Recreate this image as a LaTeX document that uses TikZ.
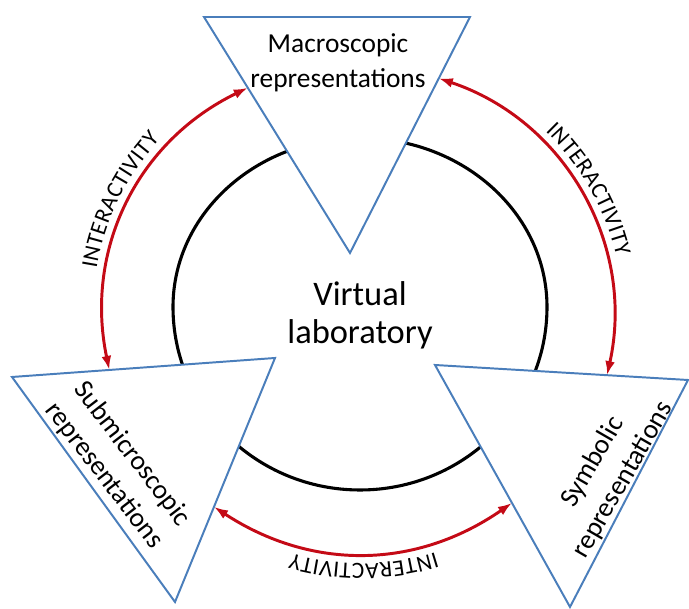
\documentclass[tikz,border=0pt]{standalone}
\usepackage{fontspec}
\setmainfont{Carlito}
\usetikzlibrary{arrows.meta,calc,decorations.text}
\definecolor{edgeblue}{RGB}{74,126,187}
\definecolor{linkred}{RGB}{196,10,22}

\begin{document}
\begin{tikzpicture}[
        repr/.style={draw=edgeblue, line width=1.4pt, fill=white},
        reprtext/.style={align=center, font=\fontsize{19.5}{25}\selectfont},
        link/.style={draw=linkred, line width=2.1pt, >={Latex[length=10pt,width=7pt]}, <->,
            postaction={decorate, decoration={text along path, text align=center, raise=0.25cm,
                text={|\fontsize{16.5}{18}\selectfont|INTERACTIVITY}}}}
    ]
        \useasboundingbox (0,0) rectangle (17.225,15.225);

        % Ring round the lab
        \draw[line width=2.2pt] (4.325,7.55)
            arc[start angle=180, end angle=0, x radius=4.675, y radius=4.225]
            arc[start angle=0, end angle=-180, x radius=4.675, y radius=4.575];
        \node[align=center, font=\fontsize{24.5}{27}\selectfont] (lab) at (9.0,7.35) {Virtual\\laboratory};

        % Triangles
        \coordinate (macro-a) at (5.1,14.8);
        \coordinate (macro-b) at (11.75,14.8);
        \coordinate (macro-c) at (8.75,8.9);
        \draw[repr] (macro-a) -- (macro-b) -- (macro-c) -- cycle;
        \node[reprtext] (macro) at (8.45,13.65) {Macroscopic\\representations};

        \coordinate (submicro-a) at (0.3,5.8);
        \coordinate (submicro-b) at (6.875,6.275);
        \coordinate (submicro-c) at (4.375,0.175);
        \draw[repr] (submicro-a) -- (submicro-b) -- (submicro-c) -- cycle;
        \node[reprtext, rotate=-52.5] (submicro) at (2.95,3.6) {Submicroscopic\\representations};

        \coordinate (symb-a) at (10.875,6.1);
        \coordinate (symb-b) at (17.2,5.725);
        \coordinate (symb-c) at (14.25,0.05);
        \draw[repr] (symb-a) -- (symb-b) -- (symb-c) -- cycle;
        \node[reprtext, rotate=60] (symb) at (15.2,3.45) {Symbolic\\representations};

        % Arrow ends on the edges
        \coordinate (macro-l) at ($(macro-a)!0.30!(macro-c)$);
        \coordinate (macro-r) at ($(macro-b)!0.26!(macro-c)$);
        \coordinate (submicro-t) at ($(submicro-a)!0.37!(submicro-b)$);
        \coordinate (submicro-r) at ($(submicro-b)!0.61!(submicro-c)$);
        \coordinate (symb-t) at ($(symb-a)!0.68!(symb-b)$);
        \coordinate (symb-l) at ($(symb-a)!0.57!(symb-c)$);

        % Interactivity links
        \draw[link] (submicro-t) to[bend left=38] (macro-l);
        \draw[link] (macro-r) to[bend left=42] (symb-t);
        \draw[link] (symb-l) to[bend left=34] (submicro-r);
    \end{tikzpicture}
\end{document}
